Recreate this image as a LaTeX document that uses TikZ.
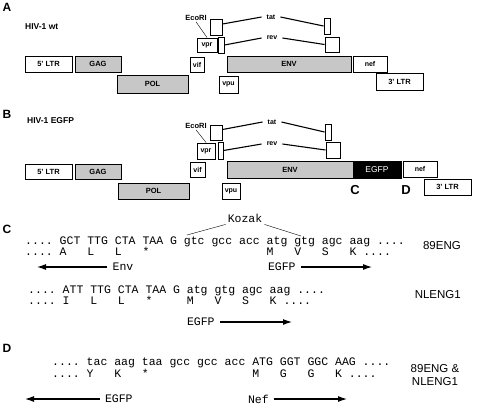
\documentclass[tikz,border=0pt]{standalone}
\usepackage{fontspec}
\setmainfont{Liberation Sans}
\newfontfamily\seqfont{Liberation Mono}
\usetikzlibrary{arrows.meta}
\frenchspacing
\newcommand\genebox[7]{\node[#1, minimum width={(#5-#3)*1pt}, minimum height={(#6-#4)*1pt}] (#2) at ({(#3+#5)/2},{(#4+#6)/2}) {#7};}
\tikzset{
  box/.style={draw, line width=1pt, inner sep=0pt, font=\bfseries\fontsize{7.5}{8}\selectfont},
  stip/.style={box, fill=black!22},
  sbox/.style={box, font=\bfseries\fontsize{7}{8}\selectfont},
  egfpbox/.style={box, fill=black, text=white, font=\fontsize{8.5}{9}\selectfont},
  panel/.style={font=\bfseries\fontsize{12}{12}\selectfont, inner sep=0pt},
  titletext/.style={font=\bfseries\fontsize{8.5}{9}\selectfont, inner sep=0pt, anchor=west},
  smalllbl/.style={font=\bfseries\fontsize{7}{8}\selectfont, inner sep=5pt},
  eco/.style={font=\bfseries\fontsize{7.5}{8}\selectfont, inner sep=1pt},
  link/.style={line width=1.1pt},
  seq/.style={font=\seqfont\fontsize{11.5}{12}\selectfont\frenchspacing, inner sep=0pt, anchor=base west},
  lab/.style={font=\seqfont\fontsize{11.5}{12}\selectfont\frenchspacing, inner sep=5pt},
  seqname/.style={font=\fontsize{11.5}{13}\selectfont, inner sep=0pt, align=center},
  arr/.style={line width=1.1pt, -{Latex[length=9pt,width=6pt]}},
}
\begin{document}
\begin{tikzpicture}[x=1pt,y=-1pt]
\useasboundingbox (0,0) rectangle (478,408);
% ---------- Panel A ----------
\node[panel] (pA) at (7,7) {A};
\node[titletext] (tA) at (25,27) {HIV-1 wt};
\genebox{box}{ltr5A}{25}{56}{72}{72}{5' LTR}
\genebox{stip}{gagA}{75}{56}{121}{72}{GAG}
\genebox{stip}{polA}{117}{75}{188}{93}{POL}
\genebox{sbox}{vifA}{190}{57}{204}{72}{vif}
\genebox{sbox}{vprA}{197}{38}{217}{52}{vpr}
\genebox{box}{rev1A}{218}{37}{224}{53}{}
\genebox{box}{tat1A}{210}{19}{222}{35}{}
\genebox{sbox}{vpuA}{219}{76}{238}{93}{vpu}
\genebox{stip}{envA}{227}{56}{351}{72}{ENV}
\genebox{sbox}{nefA}{353}{56}{387}{72}{nef}
\genebox{box}{ltr3A}{376}{73}{423}{90}{3' LTR}
\genebox{box}{tat2A}{324}{18}{330}{34}{}
\genebox{box}{rev2A}{325}{37}{339}{52}{}
\node[eco] (ecoA) at (196,18) {EcoRI};
\draw (ecoA.south) -- (vprA.north);
\node[smalllbl] (tatA) at (271,17) {tat};
\node[smalllbl] (revA) at (272,38) {rev};
\draw[link] ([yshift=3pt]tat1A.east) -- (tatA.west);
\draw[link] (tatA.east) -- (tat2A.west);
\draw[link] (rev1A.east) -- (revA.west);
\draw[link] (revA.east) -- (rev2A.west);
% ---------- Panel B ----------
\node[panel] (pB) at (7,114) {B};
\node[titletext] (tB) at (27,121) {HIV-1 EGFP};
\genebox{box}{ltr5B}{25}{164}{72}{179}{5' LTR}
\genebox{stip}{gagB}{75}{164}{121}{179}{GAG}
\genebox{stip}{polB}{118}{183}{189}{199}{POL}
\genebox{sbox}{vifB}{190}{162}{205}{177}{vif}
\genebox{sbox}{vprB}{197}{143}{215}{159}{vpr}
\genebox{box}{rev1B}{218}{142}{223}{159}{}
\genebox{box}{tat1B}{210}{125}{222}{140}{}
\genebox{sbox}{vpuB}{222}{183}{240}{199}{vpu}
\genebox{stip}{envB}{227}{161}{353}{178}{ENV}
\genebox{egfpbox}{egfpB}{353}{161}{401}{178}{EGFP}
\genebox{sbox}{nefB}{403}{161}{437}{177}{nef}
\genebox{box}{ltr3B}{424}{179}{471}{195}{3' LTR}
\genebox{box}{tat2B}{325}{124}{331}{140}{}
\genebox{box}{rev2B}{326}{142}{340}{158}{}
\node[eco] (ecoB) at (196,126) {EcoRI};
\draw (ecoB.south) -- (vprB.north);
\node[smalllbl] (tatB) at (272,122) {tat};
\node[smalllbl] (revB) at (272,144) {rev};
\draw[link] ([yshift=3pt]tat1B.east) -- (tatB.west);
\draw[link] (tatB.east) -- (tat2B.west);
\draw[link] (rev1B.east) -- (revB.west);
\draw[link] (revB.east) -- (rev2B.west);
\node[panel, font=\bfseries\fontsize{13}{13}\selectfont] (cB) at (355,190) {C};
\node[panel, font=\bfseries\fontsize{13}{13}\selectfont] (dB) at (406,190) {D};
% ---------- Panel C ----------
\node[panel] (pC) at (7,229) {C};
\node[lab, inner sep=2pt] (kozak) at (245,218) {Kozak};
\coordinate (kozL) at (187,235);
\coordinate (kozR) at (301,236);
\draw (kozL) -- (kozak.south west);
\draw (kozak.south east) -- (kozR);
\node[seq] (c1) at (25,244) {.... GCT TTG CTA TAA G gtc gcc acc atg gtg agc aag ....};
\node[seq] (c2) at (25,255) {....~A~~~L~~~L~~~*~~~~~~~~~~~~~~~~~M~~~V~~~S~~~K~....};
\node[seqname, anchor=east] (n89) at (461,246) {89ENG};
\node[lab] (envC) at (123,267) {Env};
\coordinate (envtip) at (37,267);
\draw[arr] (envC.west) -- (envtip);
\node[lab] (egfpC) at (281.8,267) {EGFP};
\coordinate (egfptip) at (372,267);
\draw[arr] (egfpC.east) -- (egfptip);
\node[seq] (c3) at (28,293) {.... ATT TTG CTA TAA G atg gtg agc aag ....};
\node[seq] (c4) at (28,304) {....~I~~~L~~~L~~~*~~~~~M~~~V~~~S~~~K~....};
\node[seqname, anchor=east] (nl1) at (461,295) {NLENG1};
\node[lab] (egfpC2) at (200.8,322) {EGFP};
\coordinate (egfptip2) at (292,322);
\draw[arr] (egfpC2.east) -- (egfptip2);
% ---------- Panel D ----------
\node[panel] (pD) at (7,348) {D};
\node[seq] (d1) at (52,365) {.... tac aag taa gcc gcc acc ATG GGT GGC AAG ....};
\node[seq] (d2) at (52,377) {....~Y~~~K~~~*~~~~~~~~~~~~~~~M~~~G~~~G~~~K~....};
\node[seqname] (nboth) at (435,375) {89ENG \&\\NLENG1};
\node[lab] (egfpD) at (118.8,399) {EGFP};
\coordinate (egfptipD) at (25,399);
\draw[arr] (egfpD.west) -- (egfptipD);
\node[lab] (nefD) at (258.4,399) {Nef};
\coordinate (neftip) at (347,399);
\draw[arr] (nefD.east) -- (neftip);
\end{tikzpicture}
\end{document}
